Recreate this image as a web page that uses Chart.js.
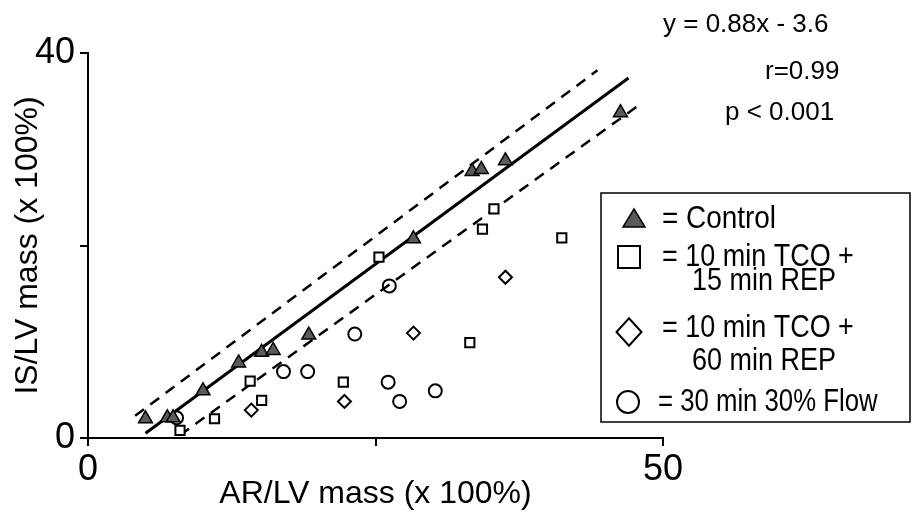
<!DOCTYPE html>
<html>
<head>
<meta charset="utf-8">
<script src="https://cdn.jsdelivr.net/npm/chart.js@4"></script>
<style>
  html, body { margin: 0; padding: 0; background: #fff; }
  #wrap { width: 912px; height: 513px; position: relative; }
</style>
</head>
<body>
<div id="wrap"><canvas id="infarctChart"></canvas></div>
<script>
// Valores (AR/LV x IS/LV, em %)
const controlX = [5.0, 6.9, 7.4, 10.0, 13.1, 15.1, 16.1, 19.2, 28.3, 33.4, 34.2, 36.3, 46.3];
const controlY = [2.0, 2.1, 2.1, 4.9, 7.8, 8.9, 9.1, 10.7, 20.7, 27.7, 27.9, 28.8, 33.8];

const rep15X = [8.0, 11.0, 14.1, 15.1, 22.2, 25.3, 33.2, 34.3, 35.3, 41.2];
const rep15Y = [0.8, 2.0, 5.9, 3.9, 5.8, 18.8, 9.9, 21.7, 23.8, 20.8];

const rep60X = [14.2, 22.3, 28.3, 36.3];
const rep60Y = [2.9, 3.8, 10.9, 16.7];

const flowX = [7.7, 17.0, 19.1, 23.2, 26.2, 26.1, 27.1, 30.2];
const flowY = [2.1, 6.9, 6.9, 10.8, 15.8, 5.8, 3.8, 4.9];

// Reta de regressão e limites (extremos)
const fitX = [5.0, 47.0];
const fitY = [0.5, 37.4];
const upperX = [4.1, 44.3];
const upperY = [2.3, 38.2];
const lowerX = [8.0, 47.7];
const lowerY = [0.3, 34.4];

const xTicks = [0, 25, 50];
const yTicks = [0, 20, 40];
const xLabels = ['0', '', '50'];
const yLabels = ['0', '', '40'];

const statLines = ['y = 0.88x - 3.6', 'r=0.99', 'p < 0.001'];
const legendLabels = ['= Control', ['= 10 min TCO +', '15 min REP'], ['= 10 min TCO +', '60 min REP'], '= 30 min 30% Flow'];

const pts = (xs, ys) => xs.map((x, i) => ({ x: x, y: ys[i] }));

const regular = "'Liberation Sans', Arial, sans-serif";
const triFill = '#5a5a5a';

// desenha um marcador simples no canvas
function marker(ctx, kind, x, y, s) {
    ctx.save();
    ctx.lineWidth = 2;
    ctx.strokeStyle = '#000';
    ctx.beginPath();
    if (kind === 'triangle') {
        ctx.moveTo(x, y - s);
        ctx.lineTo(x + s * 1.1, y + s * 0.8);
        ctx.lineTo(x - s * 1.1, y + s * 0.8);
        ctx.closePath();
        ctx.fillStyle = triFill;
        ctx.fill();
        ctx.lineWidth = 1.5;
    } else if (kind === 'rect') {
        ctx.rect(x - s, y - s, 2 * s, 2 * s);
    } else if (kind === 'diamond') {
        ctx.moveTo(x, y - s * 1.1);
        ctx.lineTo(x + s, y);
        ctx.lineTo(x, y + s * 1.1);
        ctx.lineTo(x - s, y);
        ctx.closePath();
    } else {
        ctx.arc(x, y, s, 0, Math.PI * 2);
    }
    ctx.stroke();
    ctx.restore();
}

// texto um pouco condensado (a fonte original é estreita)
function narrowText(ctx, text, x, y, sx) {
    ctx.save();
    ctx.translate(x, y);
    ctx.scale(sx, 1);
    ctx.fillText(text, 0, 0);
    ctx.restore();
}

const annotationsPlugin = {
    id: 'annotations',
    afterDraw(chart) {
        const ctx = chart.ctx;
        ctx.save();
        ctx.fillStyle = '#000';
        ctx.textBaseline = 'middle';
        ctx.textAlign = 'left';

        // estatística no canto superior direito
        ctx.font = '26px ' + regular;
        ctx.fillText(statLines[0], 663, 25);
        ctx.fillText(statLines[1], 765, 72);
        ctx.fillText(statLines[2], 725, 113);

        // caixa da legenda
        ctx.lineWidth = 1.5;
        ctx.strokeStyle = '#000';
        ctx.strokeRect(601, 193, 309, 229);

        marker(ctx, 'triangle', 634, 219, 10);
        marker(ctx, 'rect', 629, 257, 11);
        marker(ctx, 'diamond', 629, 332, 12.5);
        marker(ctx, 'circle', 628, 402, 11);

        ctx.font = '31px ' + regular;
        narrowText(ctx, legendLabels[0], 662, 219, 0.9);
        narrowText(ctx, legendLabels[1][0], 662, 257, 0.87);
        narrowText(ctx, legendLabels[1][1], 692, 281, 0.87);
        narrowText(ctx, legendLabels[2][0], 662, 328, 0.87);
        narrowText(ctx, legendLabels[2][1], 692, 361, 0.87);
        narrowText(ctx, legendLabels[3], 658, 402, 0.83);
        ctx.restore();
    }
};

const ctx = document.getElementById('infarctChart');
new Chart(ctx, {
    type: 'scatter',
    data: {
        datasets: [
            {
                label: 'Control',
                data: pts(controlX, controlY),
                pointStyle: 'triangle',
                pointRadius: 8,
                backgroundColor: triFill,
                borderColor: '#000',
                borderWidth: 1.5
            },
            {
                label: '10 min TCO + 15 min REP',
                data: pts(rep15X, rep15Y),
                pointStyle: 'rect',
                pointRadius: 6.5,
                backgroundColor: '#fff',
                borderColor: '#000',
                borderWidth: 2
            },
            {
                label: '10 min TCO + 60 min REP',
                data: pts(rep60X, rep60Y),
                pointStyle: 'rectRot',
                pointRadius: 6.5,
                backgroundColor: '#fff',
                borderColor: '#000',
                borderWidth: 2
            },
            {
                label: '30 min 30% Flow',
                data: pts(flowX, flowY),
                pointStyle: 'circle',
                pointRadius: 6.5,
                backgroundColor: 'rgba(255,255,255,0)',
                borderColor: '#000',
                borderWidth: 2
            },
            {
                type: 'line',
                label: 'fit',
                data: pts(fitX, fitY),
                borderColor: '#000',
                borderWidth: 3,
                pointRadius: 0,
                fill: false
            },
            {
                type: 'line',
                label: 'upper',
                data: pts(upperX, upperY),
                borderColor: '#000',
                borderWidth: 2.5,
                borderDash: [11, 8],
                pointRadius: 0,
                fill: false
            },
            {
                type: 'line',
                label: 'lower',
                data: pts(lowerX, lowerY),
                borderColor: '#000',
                borderWidth: 2.5,
                borderDash: [11, 8],
                pointRadius: 0,
                fill: false
            }
        ]
    },
    options: {
        responsive: true,
        maintainAspectRatio: false,
        animation: false,
        layout: { padding: { top: 53, right: 249, left: 0, bottom: 0 } },
        plugins: {
            legend: { display: false },
            tooltip: { enabled: false }
        },
        scales: {
            x: {
                type: 'linear',
                min: 0,
                max: 50,
                afterFit: (scale) => { scale.height = 75; },
                afterBuildTicks: (scale) => { scale.ticks = xTicks.map(v => ({ value: v })); },
                ticks: {
                    color: '#000',
                    padding: 2,
                    maxRotation: 0,
                    font: { family: regular, size: 36 },
                    callback: (v) => xLabels[xTicks.indexOf(v)]
                },
                grid: { drawOnChartArea: false, color: '#000', lineWidth: 2, tickLength: 8 },
                border: { color: '#000', width: 2 },
                title: {
                    display: true,
                    text: 'AR/LV mass (x 100%)',
                    color: '#000',
                    font: { family: regular, size: 32 },
                    padding: { top: 0, bottom: 0 }
                }
            },
            y: {
                type: 'linear',
                min: 0,
                max: 40,
                afterFit: (scale) => { scale.width = 88; },
                afterBuildTicks: (scale) => { scale.ticks = yTicks.map(v => ({ value: v })); },
                ticks: {
                    color: '#000',
                    padding: 5,
                    font: { family: regular, size: 36 },
                    callback: (v) => yLabels[yTicks.indexOf(v)]
                },
                grid: { drawOnChartArea: false, color: '#000', lineWidth: 2, tickLength: 8 },
                border: { color: '#000', width: 2 },
                title: {
                    display: true,
                    text: 'IS/LV mass (x 100%)',
                    color: '#000',
                    font: { family: regular, size: 32 },
                    padding: { top: 9, bottom: 0 }
                }
            }
        }
    },
    plugins: [annotationsPlugin]
});
</script>
</body>
</html>
